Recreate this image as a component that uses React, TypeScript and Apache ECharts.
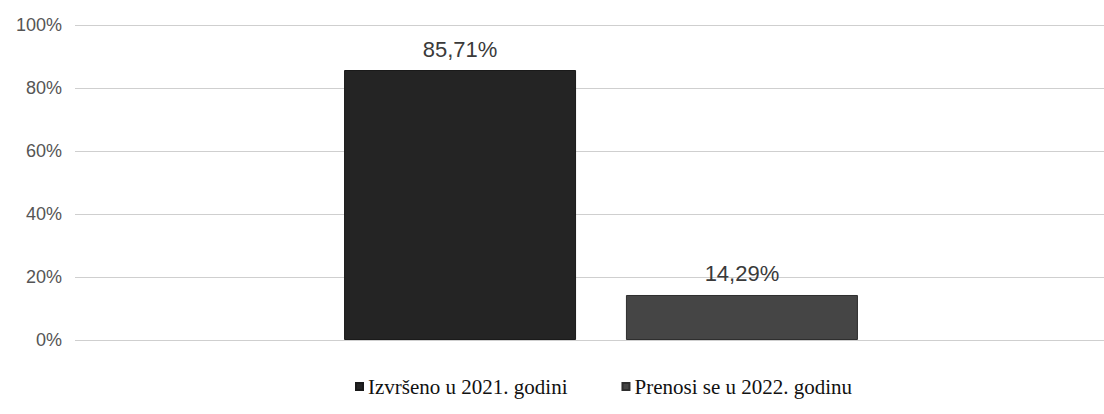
import React, { useEffect, useRef } from "react";
import * as echarts from "echarts";

const categories = ["2021"];
const seriesNames = ["Izvršeno u 2021. godini", "Prenosi se u 2022. godinu"];
const executed = [85.71];
const carried = [14.29];
const yTicks = [0, 20, 40, 60, 80, 100];

const fmt = (p: any) => Number(p.value).toFixed(2).replace(".", ",") + "%";

export default function App() {
  const ref = useRef<HTMLDivElement>(null);
  useEffect(() => {
    document.body.style.margin = "0";
    document.body.style.overflow = "hidden";
    const chart = echarts.init(ref.current!, null, { renderer: "svg" });
    chart.setOption({
      animation: false,
      backgroundColor: "#ffffff",
      grid: { left: 75, right: 0, top: 25, bottom: 74, containLabel: false },
      legend: {
        bottom: 12,
        left: 350,
        itemGap: 54,
        icon: "rect",
        itemWidth: 7,
        itemHeight: 7,
        textStyle: { fontFamily: "Liberation Serif", fontSize: 21, color: "#111" },
        data: seriesNames,
      },
      xAxis: {
        type: "category",
        data: categories,
        axisLine: { show: false },
        axisTick: { show: false },
        axisLabel: { show: false },
      },
      yAxis: {
        type: "value",
        min: yTicks[0],
        max: yTicks[yTicks.length - 1],
        interval: 20,
        axisLine: { show: false },
        axisTick: { show: false },
        axisLabel: {
          formatter: "{value}%",
          fontFamily: "Liberation Sans",
          fontSize: 18,
          color: "#555",
          margin: 13,
        },
        splitLine: { lineStyle: { color: "#cfcfcf", width: 1 } },
      },
      series: [
        {
          name: seriesNames[0],
          type: "bar",
          data: executed,
          barWidth: 232,
          barGap: "21.5%",
          itemStyle: { color: "#242424", borderColor: "#1a1a1a", borderWidth: 1 },
          label: {
            show: true,
            position: "top",
            distance: 10,
            formatter: fmt,
            fontFamily: "Liberation Sans",
            fontSize: 22,
            color: "#3a3a3a",
          },
        },
        {
          name: seriesNames[1],
          type: "bar",
          data: carried,
          barWidth: 232,
          itemStyle: { color: "#454545", borderColor: "#2e2e2e", borderWidth: 1 },
          label: {
            show: true,
            position: "top",
            distance: 10,
            formatter: fmt,
            fontFamily: "Liberation Sans",
            fontSize: 22,
            color: "#3a3a3a",
          },
        },
      ],
    });
    return () => chart.dispose();
  }, []);
  return <div ref={ref} style={{ width: 1127, height: 414 }} />;
}
